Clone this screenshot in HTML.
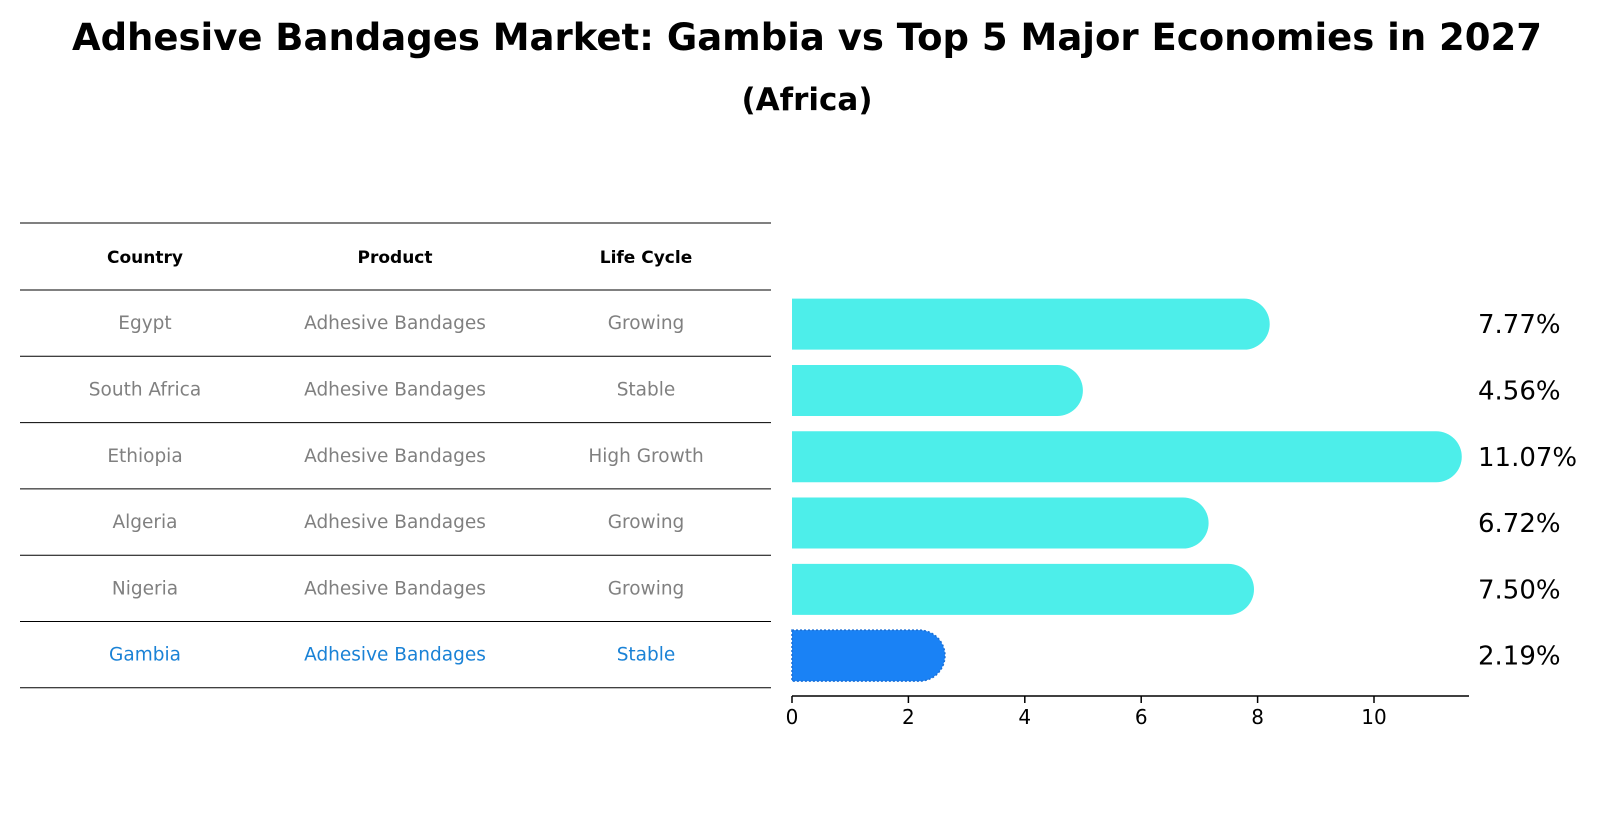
<!DOCTYPE html>
<html><head><meta charset="utf-8"><style>
html,body{margin:0;padding:0;background:#fff;}
svg{display:block;font-family:"DejaVu Sans","Liberation Sans",sans-serif;}
</style></head><body>
<svg id="chart" width="1604" height="823" viewBox="0 0 1604 823">
<text x="807" y="50" text-anchor="middle" font-size="37" font-weight="bold">Adhesive Bandages Market: Gambia vs Top 5 Major Economies in 2027</text>
<text x="807" y="110" text-anchor="middle" font-size="31" font-weight="bold">(Africa)</text>
<g id="table"></g>
<g id="bars"></g>
</svg>
<script>
const countries = ["Egypt","South Africa","Ethiopia","Algeria","Nigeria","Gambia"];
const products = ["Adhesive Bandages","Adhesive Bandages","Adhesive Bandages","Adhesive Bandages","Adhesive Bandages","Adhesive Bandages"];
const lifeCycles = ["Growing","Stable","High Growth","Growing","Growing","Stable"];
const values = [7.77,4.56,11.07,6.72,7.50,2.19];
const valueLabels = ["7.77%","4.56%","11.07%","6.72%","7.50%","2.19%"];
const ticks = [0,2,4,6,8,10];
const highlight = "Gambia";

const NS="http://www.w3.org/2000/svg";
function mk(tag,attrs,parent){const e=document.createElementNS(NS,tag);for(const k in attrs)e.setAttribute(k,attrs[k]);parent.appendChild(e);return e;}
const x0=792, xs=58.2;
const xScale=v=>x0+v*xs;
const rowTop=290, rowH=66.3;
const yCenter=i=>rowTop+rowH*(i+0.5)+1;

const tbl=document.getElementById('table');
const colX=[145,395,646];
const hdr=["Country","Product","Life Cycle"];
hdr.forEach((h,j)=>{
  const t=mk('text',{x:colX[j],y:263,'text-anchor':'middle','font-size':'17','font-weight':'bold'},tbl);
  t.textContent=h;
  
  
});
const lineYs=[223];
for(let i=0;i<=countries.length;i++) lineYs.push(rowTop+rowH*i);
lineYs.forEach((y,i)=>{
  const l=mk('line',{x1:20,x2:771,y1:y,y2:y,stroke:'#000','stroke-width':'1'},tbl);
  
  
});
countries.forEach((c,i)=>{
  const col=c===highlight?'#1a82d6':'#808080';
  [c,products[i],lifeCycles[i]].forEach((v,j)=>{
    const t=mk('text',{x:colX[j],y:yCenter(i)+5,'text-anchor':'middle','font-size':'18.5',fill:col},tbl);
    t.textContent=v;
    
    
  });
});

const bars=document.getElementById('bars');
const bh=51, r=25.5;
values.forEach((v,i)=>{
  const c=countries[i];
  const isH=c===highlight;
  const yc=yCenter(i);
  const xe=xScale(v);
  const d=`M${x0},${yc-bh/2} H${xe} A${r},${r} 0 0 1 ${xe},${yc+bh/2} H${x0} Z`;
  const p=mk('path',{d:d,fill:isH?'#1a82f5':'#4deeea'},bars);
  if(isH){p.setAttribute('stroke','#1a6fd6');p.setAttribute('stroke-dasharray','2,2');p.setAttribute('stroke-width','1.5');}
  
  
  const t=mk('text',{x:1478,y:yc+9,'font-size':'26',fill:'#000'},bars);
  t.textContent=valueLabels[i];
  
  
});
const axY=696;
const ax=mk('line',{x1:x0,x2:1469,y1:axY,y2:axY,stroke:'#000','stroke-width':'1.5'},bars);


ticks.forEach(tv=>{
  const x=xScale(tv);
  const l=mk('line',{x1:x,x2:x,y1:axY,y2:axY+7,stroke:'#000','stroke-width':'1.5'},bars);
  
  
  const t=mk('text',{x:x,y:axY+28,'text-anchor':'middle','font-size':'20'},bars);
  t.textContent=tv;
  
  
});
</script>
</body></html>
